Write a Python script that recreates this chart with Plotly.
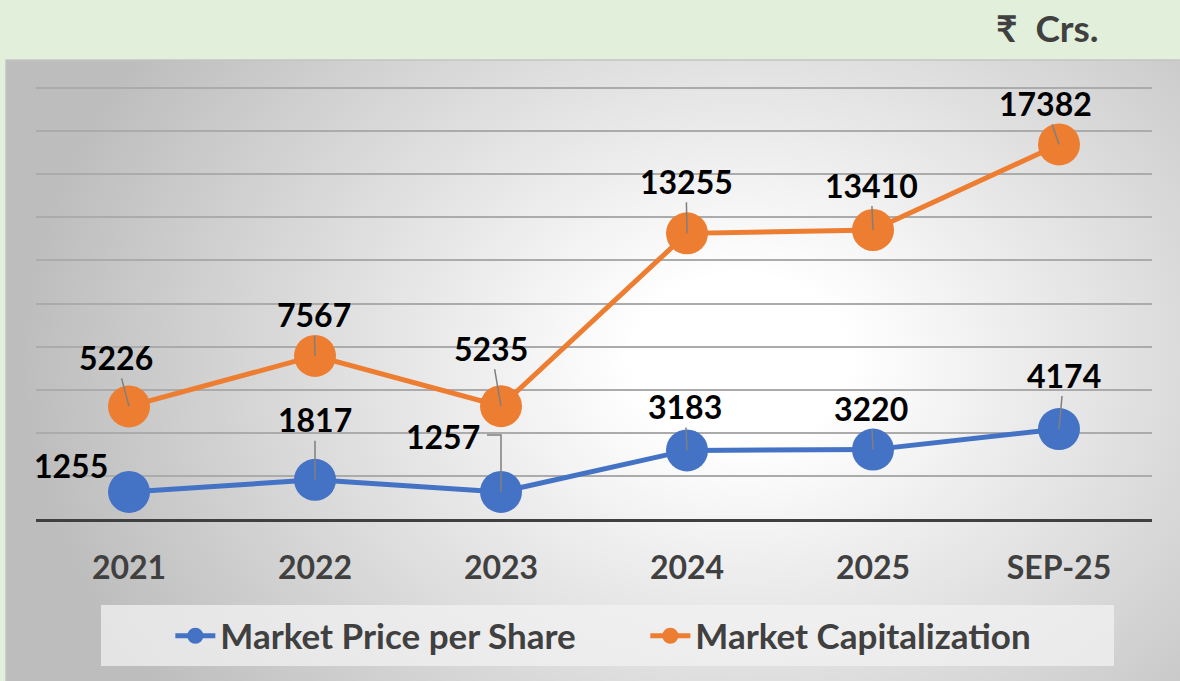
import base64

import plotly.graph_objects as go

# data
periodos = ["2021", "2022", "2023", "2024", "2025", "SEP-25"]
precio_accion = [1255, 1817, 1257, 3183, 3220, 4174]
capitalizacion = [5226, 7567, 5235, 13255, 13410, 17382]

AZUL = "#4472C4"
NARANJA = "#ED7D31"
FUENTE = "Lato, 'Noto Sans', sans-serif"

# label offsets (px) relative to each marker, as placed in the source chart
offs_cap = [(-13, -49), (-1, -41), (-10, -58), (-1, -52), (-2, -45), (-14, -41)]
offs_precio = [(-58, -26), (0, -60), (-58, -55), (-2, -44), (-2, -41), (5, -54)]
sin_guia = {(0, 0), (0, 2)}  # (serie, punto) without a straight leader line

# radial grey background of the chart panel
svg = (
    "<svg xmlns='http://www.w3.org/2000/svg' width='1174' height='621' "
    "preserveAspectRatio='none' viewBox='0 0 1174 621'>"
    "<defs><radialGradient id='g' gradientUnits='userSpaceOnUse' cx='734' cy='300' r='720' "
    "gradientTransform='translate(734 300) scale(1 0.78) translate(-734 -300)'>"
    "<stop offset='0' stop-color='#ffffff'/><stop offset='0.15' stop-color='#ffffff'/>"
    "<stop offset='1' stop-color='#bdbdbd'/></radialGradient></defs>"
    "<rect width='1174' height='621' fill='url(#g)'/></svg>"
)
fondo = "data:image/svg+xml;base64," + base64.b64encode(svg.encode()).decode()

fig = go.Figure()
fig.add_trace(go.Scatter(
    x=periodos, y=precio_accion, name="Market Price per Share",
    mode="lines+markers", line=dict(color=AZUL, width=5),
    marker=dict(color=AZUL, size=42)
))
fig.add_trace(go.Scatter(
    x=periodos, y=capitalizacion, name="Market Capitalization",
    mode="lines+markers", line=dict(color=NARANJA, width=5),
    marker=dict(color=NARANJA, size=42)
))

# category axis positions are given by index (the year strings look numeric)
for s, (serie, offs) in enumerate([(precio_accion, offs_precio), (capitalizacion, offs_cap)]):
    for i, val in enumerate(serie):
        fig.add_annotation(
            x=i, y=val, text=str(val), ax=offs[i][0], ay=offs[i][1],
            showarrow=True, arrowhead=0, arrowwidth=1.5,
            arrowcolor="rgba(0,0,0,0)" if (s, i) in sin_guia else "#7f7f7f",
            font=dict(family=FUENTE, size=32, color="#000000", weight="bold")
        )

# elbow leader for the 2023 share price label
fig.add_shape(
    type="path", xref="x", yref="y", xsizemode="pixel", ysizemode="pixel",
    xanchor=2, yanchor=precio_accion[2],
    path="M -14,57 L 0,57 L 0,0", line=dict(color="#7f7f7f", width=1.5)
)

# paper coords: plot area is x 36..1152 px, y 86..519 px
def px(x):
    return (x - 36) / 1116


def py(y):
    return (519 - y) / 433


# legend box
fig.add_shape(
    type="rect", xref="paper", yref="paper", x0=px(101), x1=px(1114), y0=py(666), y1=py(605),
    fillcolor="rgba(242,242,242,0.75)", line=dict(width=0), layer="below"
)
# panel outline
fig.add_shape(
    type="rect", xref="paper", yref="paper", x0=px(6), x1=px(1190), y0=py(700), y1=py(60),
    fillcolor="rgba(0,0,0,0)", line=dict(color="#c4c4c4", width=1.5), layer="below"
)

fig.add_layout_image(
    source=fondo, xref="paper", yref="paper", x=px(6), y=py(60),
    sizex=px(1180) - px(6), sizey=py(60) - py(681), sizing="stretch",
    xanchor="left", yanchor="top", layer="below"
)

fig.add_annotation(
    xref="paper", yref="paper", x=px(1101), y=py(28), showarrow=False,
    text="₹  Crs.", xanchor="right", yanchor="middle",
    font=dict(family=FUENTE, size=37, color="#404040", weight="bold")
)

fig.update_xaxes(
    type="category", range=[-0.5, 5.5], showgrid=False,
    showline=True, linecolor="#404040", linewidth=3,
    ticks="outside", ticklen=19, tickcolor="rgba(0,0,0,0)",
    tickfont=dict(family=FUENTE, size=32, color="#404040", weight="bold")
)
fig.update_yaxes(
    range=[0, 20093], dtick=2000, showticklabels=False, zeroline=False,
    gridcolor="#ababab", gridwidth=1.5
)

fig.update_layout(
    width=1180, height=681,
    margin=dict(l=36, r=28, t=86, b=162),
    paper_bgcolor="#E2EFDA", plot_bgcolor="rgba(0,0,0,0)",
    showlegend=True,
    legend=dict(
        orientation="h", x=0.546, xanchor="center", y=py(636), yanchor="middle",
        bgcolor="rgba(0,0,0,0)", entrywidth=420, itemwidth=40,
        font=dict(family=FUENTE, size=35, color="#404040", weight="bold")
    )
)

fig.write_html(
    "out.html",
    config={"displayModeBar": False},
    post_script="document.body.style.margin='0';"
)
